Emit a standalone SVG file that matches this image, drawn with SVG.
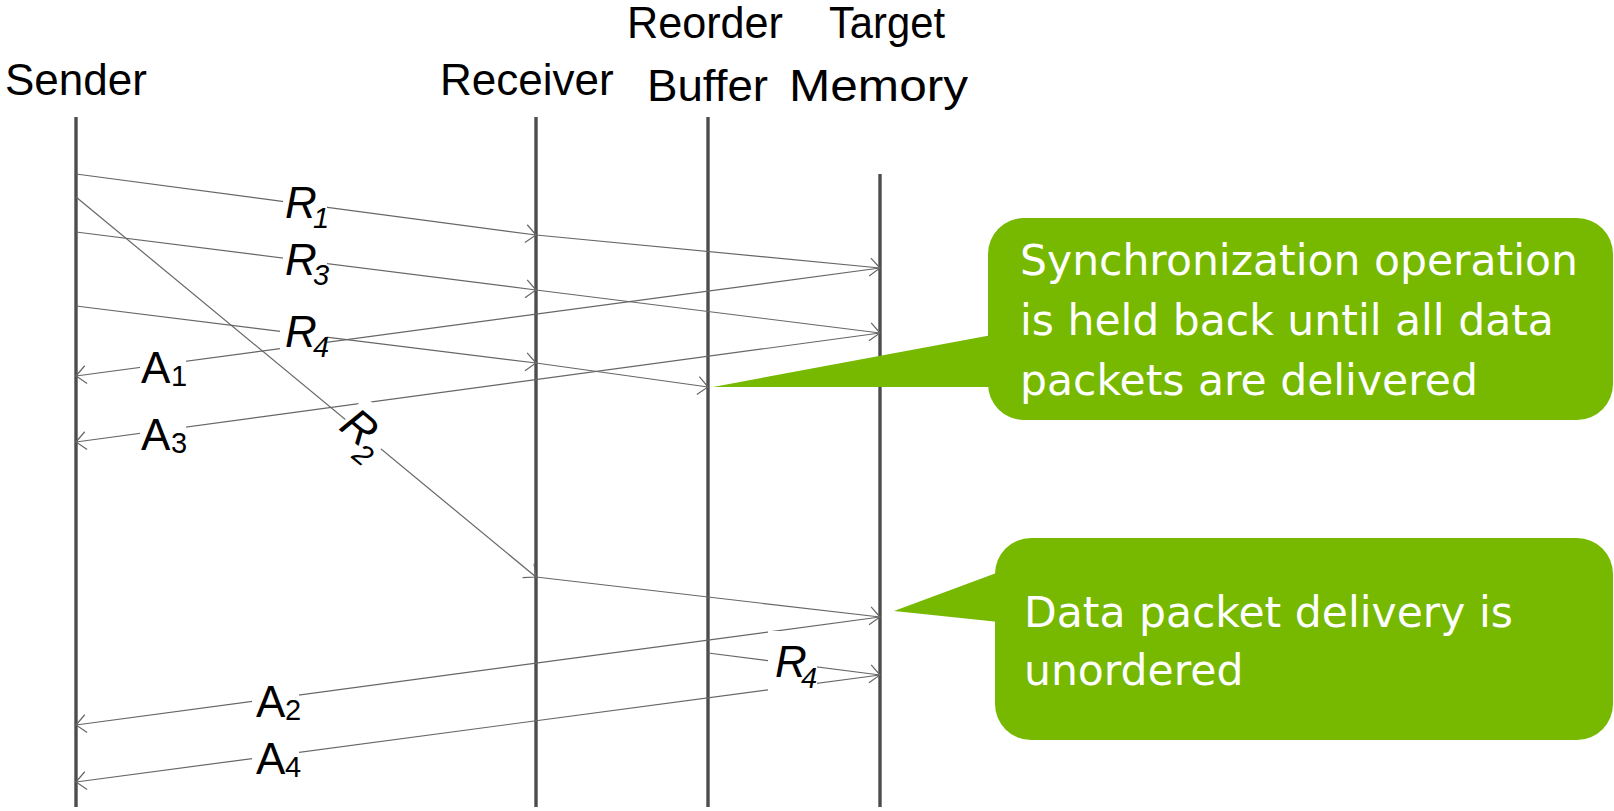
<svg xmlns="http://www.w3.org/2000/svg" width="1614" height="811" viewBox="0 0 1614 811">
  <defs>
    <marker id="arrow" markerUnits="userSpaceOnUse" markerWidth="24" markerHeight="24" viewBox="-12 -12 24 24" refX="0" refY="0" orient="auto">
      <path d="M-10,-9 L0,0 L-10,9" fill="none" stroke="#666666" stroke-width="1.2"/>
    </marker>
  </defs>
  <style>
    .head { font-family: "Liberation Sans", Arial, sans-serif; font-size: 44px; fill: #000; }
    .life { stroke: #4d4d4d; stroke-width: 3.4; }
    .msg { stroke: #666666; stroke-width: 1.2; fill: none; marker-end: url(#arrow); }
    .lbl { font-family: "Liberation Sans", Arial, sans-serif; font-size: 44px; fill: #000; }
    .lbl .sub { font-size: 29px; }
    .req { font-style: italic; }
    .pad { fill: #ffffff; }
    .callout { fill: #76b900; }
    .note { font-family: "DejaVu Sans", Verdana, sans-serif; font-size: 42.5px; fill: #ffffff; }
  </style>

  <rect width="1614" height="811" fill="#ffffff"/>

  <!-- lifelines with their headings -->
  <g id="sender">
    <text class="head" x="5" y="95">Sender</text>
    <line class="life" x1="76" y1="117" x2="76" y2="807"/>
  </g>
  <g id="receiver">
    <text class="head" x="440" y="95">Receiver</text>
    <line class="life" x1="536" y1="117" x2="536" y2="807"/>
  </g>
  <g id="reorder-buffer">
    <text class="head" x="627" y="38" textLength="156" lengthAdjust="spacingAndGlyphs">Reorder</text>
    <text class="head" x="647" y="101" textLength="121" lengthAdjust="spacingAndGlyphs">Buffer</text>
    <line class="life" x1="708" y1="117" x2="708" y2="807"/>
  </g>
  <g id="target-memory">
    <text class="head" x="829" y="38" textLength="116" lengthAdjust="spacingAndGlyphs">Target</text>
    <text class="head" x="789" y="101" textLength="179" lengthAdjust="spacingAndGlyphs">Memory</text>
    <line class="life" x1="880" y1="174" x2="880" y2="807"/>
  </g>

  <!-- messages -->
  <g id="connectors">
    <line class="msg" x1="76" y1="174" x2="536" y2="235"/>
    <line class="msg" x1="536" y1="235" x2="880" y2="268"/>
    <line class="msg" x1="76" y1="197" x2="536" y2="577"/>
    <line class="msg" x1="536" y1="577" x2="880" y2="617"/>
    <line class="msg" x1="76" y1="232" x2="536" y2="290"/>
    <line class="msg" x1="536" y1="290" x2="880" y2="333"/>
    <line class="msg" x1="76" y1="306" x2="536" y2="363"/>
    <line class="msg" x1="536" y1="363" x2="708" y2="387"/>
    <line class="msg" x1="708" y1="653" x2="880" y2="675"/>
    <line class="msg" x1="880" y1="268" x2="76" y2="376"/>
    <line class="msg" x1="880" y1="333" x2="76" y2="442"/>
    <line class="msg" x1="880" y1="617" x2="76" y2="725"/>
    <line class="msg" x1="880" y1="675" x2="76" y2="782"/>
  </g>

  <!-- message labels on white pads -->
  <g id="label-r1" class="lbl req">
    <rect class="pad" x="283" y="182" width="44" height="52"/>
    <text x="285" y="218">R<tspan class="sub" x="313" y="228">1</tspan></text>
  </g>
  <g id="label-r3" class="lbl req">
    <rect class="pad" x="283" y="238" width="44" height="52"/>
    <text x="285" y="275">R<tspan class="sub" x="313" y="285">3</tspan></text>
  </g>
  <g id="label-r4a" class="lbl req">
    <rect class="pad" x="280" y="311" width="47" height="52"/>
    <text x="285" y="347">R<tspan class="sub" x="313" y="357">4</tspan></text>
  </g>
  <g id="label-r2" class="lbl req" transform="translate(357,429) rotate(39.6)">
    <rect class="pad" x="-15" y="-30" width="46" height="60"/>
    <text x="-15" y="12">R<tspan class="sub" x="13" y="26">2</tspan></text>
  </g>
  <g id="label-r4b" class="lbl req">
    <rect class="pad" x="768" y="631" width="49" height="62"/>
    <text x="775" y="677">R<tspan class="sub" x="801" y="688">4</tspan></text>
  </g>
  <g id="label-a1" class="lbl">
    <rect class="pad" x="140" y="345" width="46" height="48"/>
    <text x="141" y="383">A<tspan class="sub" x="171" y="386">1</tspan></text>
  </g>
  <g id="label-a3" class="lbl">
    <rect class="pad" x="140" y="412" width="46" height="46"/>
    <text x="141" y="450">A<tspan class="sub" x="171" y="453">3</tspan></text>
  </g>
  <g id="label-a2" class="lbl">
    <rect class="pad" x="252" y="680" width="47" height="46"/>
    <text x="256" y="717">A<tspan class="sub" x="285" y="720">2</tspan></text>
  </g>
  <g id="label-a4" class="lbl">
    <rect class="pad" x="252" y="737" width="47" height="46"/>
    <text x="256" y="774">A<tspan class="sub" x="285" y="777">4</tspan></text>
  </g>

  <!-- callouts -->
  <g id="callout-sync">
    <polygon class="callout" points="713,387 992,335 992,387"/>
    <rect class="callout" x="988" y="218" width="625" height="202" rx="36" ry="36"/>
    <text class="note" x="1020" y="275">Synchronization operation</text>
    <text class="note" x="1020" y="335">is held back until all data</text>
    <text class="note" x="1020" y="395">packets are delivered</text>
  </g>
  <g id="callout-unordered">
    <polygon class="callout" points="894,611 999,572 999,622"/>
    <rect class="callout" x="995" y="538" width="618" height="202" rx="36" ry="36"/>
    <text class="note" x="1024" y="627">Data packet delivery is</text>
    <text class="note" x="1024" y="685">unordered</text>
  </g>
</svg>
